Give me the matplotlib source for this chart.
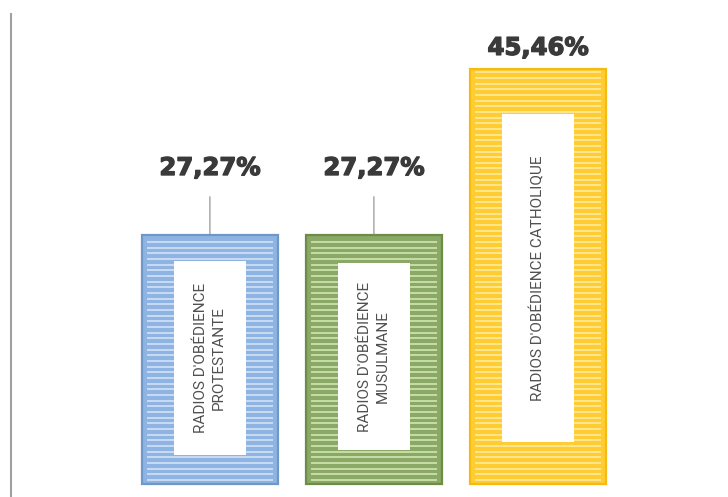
import matplotlib
matplotlib.use("Agg")
import matplotlib.pyplot as plt
from matplotlib.patches import Rectangle
import matplotlib.patheffects as pe
import numpy as np

# Data
categories = ["RADIOS D'OBÉDIENCE\nPROTESTANTE",
              "RADIOS D'OBÉDIENCE\nMUSULMANE",
              "RADIOS D'OBÉDIENCE CATHOLIQUE"]
values = [27.27, 27.27, 45.46]
value_labels = ["27,27%", "27,27%", "45,46%"]

# Styles
base_colors = ["#8db4e2", "#8aa866", "#ffcc33"]
stripe_colors = ["#c9dcf3", "#c8dca6", "#ffe68f"]
edge_colors = ["#6f98c8", "#6d8c48", "#f5bb10"]
# white label panel: gap below bar top and above baseline, in value units
panel_top_gap = [2.9, 3.1, 4.9]
panel_bottom_gap = [3.2, 3.7, 4.6]
panel_width = 0.44
label_offset_px = [67, 67, 21]
leader = [True, True, False]

fig = plt.figure(figsize=(7.28, 4.97), dpi=100)
ax = fig.add_axes([0, 0, 1, 1])
ax.set_xlim(-1.280, 3.159)
ax.set_ylim(-1.42, 53.0)
ax.axis("off")

x = np.arange(len(values))
bar_w = 0.83
bars = ax.bar(x, values, width=bar_w, color=base_colors,
              edgecolor=edge_colors, linewidth=1.6, zorder=2)

# horizontal light stripes inside each bar
for i, (b, v) in enumerate(zip(bars, values)):
    x0 = b.get_x() + 0.03
    x1 = b.get_x() + b.get_width() - 0.03
    ys = np.arange(0.45, v - 0.3, 0.62)
    ax.hlines(ys, x0, x1, colors=stripe_colors[i], linewidth=1.4, zorder=3)

# white label panels with rotated category names
for i, (xi, v) in enumerate(zip(x, values)):
    y0 = panel_bottom_gap[i]
    y1 = v - panel_top_gap[i]
    ax.add_patch(Rectangle((xi - panel_width / 2, y0), panel_width, y1 - y0,
                           facecolor="white", edgecolor="none", zorder=4))
    ax.text(xi, (y0 + y1) / 2, categories[i], rotation=90,
            ha="center", va="center", multialignment="center",
            fontsize=11, color="#505050", linespacing=1.3,
            family=["Roboto", "DejaVu Sans"], zorder=5)

# value labels
heavy = [pe.withStroke(linewidth=1.0, foreground="#3a3a3a")]
for i, (xi, v) in enumerate(zip(x, values)):
    kw = dict(xy=(xi, v), xytext=(0, label_offset_px[i]),
              textcoords="offset pixels", ha="center", va="center",
              fontsize=17.5, fontweight="bold", color="#3a3a3a",
              path_effects=heavy, zorder=6)
    if leader[i]:
        kw["arrowprops"] = dict(arrowstyle="-", color="#8a8a8a", lw=0.8,
                                shrinkA=10, shrinkB=0)
    ax.annotate(value_labels[i], **kw)

# left axis line
ax.plot([-1.213, -1.213], [-1.42, 51.6], color="#a0a0a0", lw=1.5, zorder=1,
        solid_capstyle="butt")

fig.savefig("out.png", dpi=100, facecolor="white")
